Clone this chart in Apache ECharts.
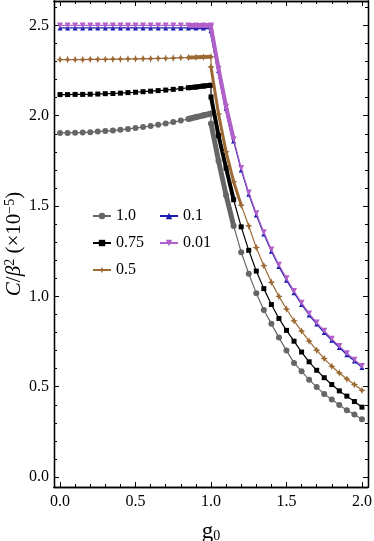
<!DOCTYPE html>
<html><head><meta charset="utf-8">
<script src="https://cdn.jsdelivr.net/npm/echarts@6/dist/echarts.min.js"></script>
<style>html,body{margin:0;padding:0;background:#fff}#c{width:374px;height:541px}</style>
</head><body><div id="c"></div>
<script>
// g0 sample positions
const gLeft  = [0,0.05,0.1,0.15,0.2,0.25,0.3,0.35,0.4,0.45,0.5,0.55,0.6,0.65,0.7,0.75,0.8,0.85,0.9,0.95,1.0];
const gRight = [1.0,1.05,1.1,1.15,1.2,1.25,1.3,1.35,1.4,1.45,1.5,1.55,1.6,1.65,1.7,1.75,1.8,1.85,1.9,1.95,2.0];

// series values (C/beta^2, x1e-5)
const grayLeft   = [1.905,1.905,1.906,1.907,1.909,1.912,1.915,1.918,1.922,1.927,1.932,1.937,1.943,1.950,1.957,1.965,1.973,1.982,1.992,2.002,2.012];
const grayRight  = [1.957,1.75,1.56,1.39,1.245,1.125,1.018,0.925,0.848,0.772,0.700,0.632,0.585,0.539,0.498,0.460,0.429,0.399,0.370,0.346,0.320];
const blackLeft  = [2.117,2.117,2.118,2.118,2.119,2.120,2.122,2.123,2.125,2.128,2.130,2.133,2.136,2.139,2.142,2.146,2.150,2.155,2.159,2.164,2.169];
const blackRight = [2.104,1.89,1.71,1.535,1.385,1.255,1.14,1.043,0.955,0.878,0.812,0.752,0.692,0.638,0.591,0.550,0.512,0.477,0.448,0.418,0.387];
const brownLeft  = [2.311,2.311,2.311,2.311,2.312,2.312,2.312,2.313,2.313,2.314,2.315,2.316,2.316,2.317,2.318,2.319,2.321,2.322,2.323,2.325,2.326];
const brownRight = [2.27,2.01,1.80,1.635,1.505,1.39,1.27,1.17,1.078,1.0,0.93,0.865,0.808,0.753,0.702,0.656,0.613,0.576,0.543,0.512,0.480];
const blueLeft   = [2.486,2.486,2.486,2.486,2.486,2.486,2.486,2.486,2.486,2.486,2.486,2.486,2.486,2.486,2.486,2.486,2.486,2.486,2.486,2.486,2.486];
const blueRight  = [2.47,2.25,2.04,1.86,1.70,1.565,1.45,1.345,1.25,1.165,1.09,1.02,0.955,0.897,0.847,0.80,0.757,0.717,0.677,0.642,0.607];
const purpleLeft = [2.500,2.500,2.500,2.500,2.500,2.500,2.500,2.500,2.500,2.500,2.500,2.500,2.500,2.500,2.500,2.500,2.500,2.500,2.500,2.500,2.500];
const purpleRight= [2.49,2.26,2.05,1.87,1.71,1.575,1.46,1.355,1.26,1.175,1.10,1.03,0.965,0.905,0.855,0.81,0.765,0.725,0.685,0.65,0.615];

const seriesNames = ['1.0','0.75','0.5','0.1','0.01'];

// tick values
const xMajorTicks = [0,0.5,1,1.5,2];
const xMinorTicks = [0.1,0.2,0.3,0.4,0.6,0.7,0.8,0.9,1.1,1.2,1.3,1.4,1.6,1.7,1.8,1.9];
const yMajorTicks = [0,0.5,1,1.5,2,2.5];
const yMinorTicks = [0.1,0.2,0.3,0.4,0.6,0.7,0.8,0.9,1.1,1.2,1.3,1.4,1.6,1.7,1.8,1.9,2.1,2.2,2.3,2.4,2.6];

const X_MIN = -0.04, X_MAX = 2.04, Y_MIN = -0.055, Y_MAX = 2.635;
const FONT = 'Liberation Serif';

const starPath = 'path://M0,-10 L3,-3 L10,0 L3,3 L0,10 L-3,3 L-10,0 L-3,-3 Z';

const styles = [
  {color:'#666666', symbol:'circle', size:6, left:grayLeft, right:grayRight, bandW:6, rEnd:3},
  {color:'#000000', symbol:'rect', size:5, left:blackLeft, right:blackRight, bandW:5, rEnd:3},
  {color:'#9c6a35', symbol:starPath, size:7.5, left:brownLeft, right:brownRight, bandW:4, rEnd:4},
  {color:'#1c1cb0', symbol:'triangle', size:5, left:blueLeft, right:blueRight, bandW:2.5, rEnd:3},
  {color:'#b060c8', symbol:'triangle', size:6, rot:180, left:purpleLeft, right:purpleRight, bandW:5, rEnd:3}
];

function pairs(gs, vs){ return gs.map((g,i)=>[g, vs[i]]); }

const series = [];
styles.forEach((s, k) => {
  const main = pairs(gLeft, s.left).concat(pairs(gRight, s.right));
  series.push({
    name: 'bandL'+k, type:'line', data: pairs(gLeft.slice(17), s.left.slice(17)),
    symbol:'none', lineStyle:{color:s.color, width:s.bandW}, z: 2+k*2, silent:true
  });
  series.push({
    name: 'bandR'+k, type:'line', data: pairs(gRight.slice(0, s.rEnd+1), s.right.slice(0, s.rEnd+1)),
    symbol:'none', lineStyle:{color:s.color, width:Math.max(3, s.bandW-1)}, z: 2+k*2, silent:true
  });
  series.push({
    name: seriesNames[k], type:'line', data: main,
    symbol: s.symbol, symbolSize: s.size, symbolRotate: s.rot || 0, showAllSymbol:true,
    lineStyle:{color:s.color, width:1.2}, itemStyle:{color:s.color},
    z: 3+k*2
  });
});

const axisLineStyle = {show:true, onZero:false, lineStyle:{color:'#000', width:1.3}};
function xAx(pos, ticks, len, labels){
  return {
    type:'value', position:pos, min:X_MIN, max:X_MAX, gridIndex:0,
    axisLine: axisLineStyle,
    axisTick:{show:true, inside:true, length:len, customValues:ticks, lineStyle:{color:'#000', width:1}},
    minorTick:{show:false}, splitLine:{show:false},
    axisLabel: labels ? {show:true, customValues:ticks, margin:7, color:'#000', fontFamily:FONT, fontSize:16,
      formatter: v => v.toFixed(1)} : {show:false}
  };
}
function yAx(pos, ticks, len, labels){
  return {
    type:'value', position:pos, min:Y_MIN, max:Y_MAX, gridIndex:0,
    axisLine: axisLineStyle,
    axisTick:{show:true, inside:true, length:len, customValues:ticks, lineStyle:{color:'#000', width:1}},
    minorTick:{show:false}, splitLine:{show:false},
    axisLabel: labels ? {show:true, customValues:ticks, margin:5, color:'#000', fontFamily:FONT, fontSize:16,
      formatter: v => v.toFixed(1)} : {show:false}
  };
}

const xAxes = [xAx('bottom', xMajorTicks, 5, true), xAx('bottom', xMinorTicks, 3, false),
               xAx('top', xMajorTicks, 5, false), xAx('top', xMinorTicks, 3, false)];
xAxes[0].name = '{g|g}{sub|0}';
xAxes[0].nameLocation = 'middle';
xAxes[0].nameGap = 32;
xAxes[0].nameMoveOverlap = false;
xAxes[0].nameTextStyle = {color:'#000', fontFamily:FONT, fontSize:22,
  rich:{g:{fontFamily:FONT, fontSize:23, color:'#000', lineHeight:24, verticalAlign:'bottom'},
        sub:{fontFamily:FONT, fontSize:14, color:'#000', lineHeight:14, verticalAlign:'bottom'}}};

const yAxes = [yAx('left', yMajorTicks, 5, true), yAx('left', yMinorTicks, 3, false),
               yAx('right', yMajorTicks, 5, false), yAx('right', yMinorTicks, 3, false)];
yAxes[0].name = '{i|C}{n|/}{i|\u03B2}{sup|2}{n| (\u00D710}{sup|\u22125}{n|)}';
yAxes[0].nameLocation = 'middle';
yAxes[0].nameGap = 29;
yAxes[0].nameMoveOverlap = false;
yAxes[0].nameRotate = 90;
yAxes[0].nameTextStyle = {color:'#000', fontFamily:FONT, fontSize:21,
  rich:{
    i:{fontStyle:'italic', fontFamily:FONT, fontSize:21, color:'#000', lineHeight:22, verticalAlign:'bottom'},
    n:{fontFamily:FONT, fontSize:21, color:'#000', lineHeight:22, verticalAlign:'bottom'},
    sup:{fontFamily:FONT, fontSize:14, color:'#000', lineHeight:14, verticalAlign:'top'}
  }};

const legendText = {color:'#000', fontFamily:FONT, fontSize:16, lineHeight:16};
const option = {
  animation:false,
  backgroundColor:'#fff',
  grid:{left:54, right:6, top:1, bottom:54, containLabel:false, outerBoundsMode:'none'},
  xAxis: xAxes,
  yAxis: yAxes,
  legend:[
    {data:seriesNames.slice(0,3), orient:'vertical', left:87, top:203, itemWidth:18, itemHeight:8, itemGap:11,
     textStyle:legendText, selectedMode:false},
    {data:seriesNames.slice(3), orient:'vertical', left:154, top:203, itemWidth:18, itemHeight:8, itemGap:11,
     textStyle:legendText, selectedMode:false}
  ],
  series: series
};
const chart = echarts.init(document.getElementById('c'), null, {renderer:'canvas'});
chart.setOption(option);
</script></body></html>
